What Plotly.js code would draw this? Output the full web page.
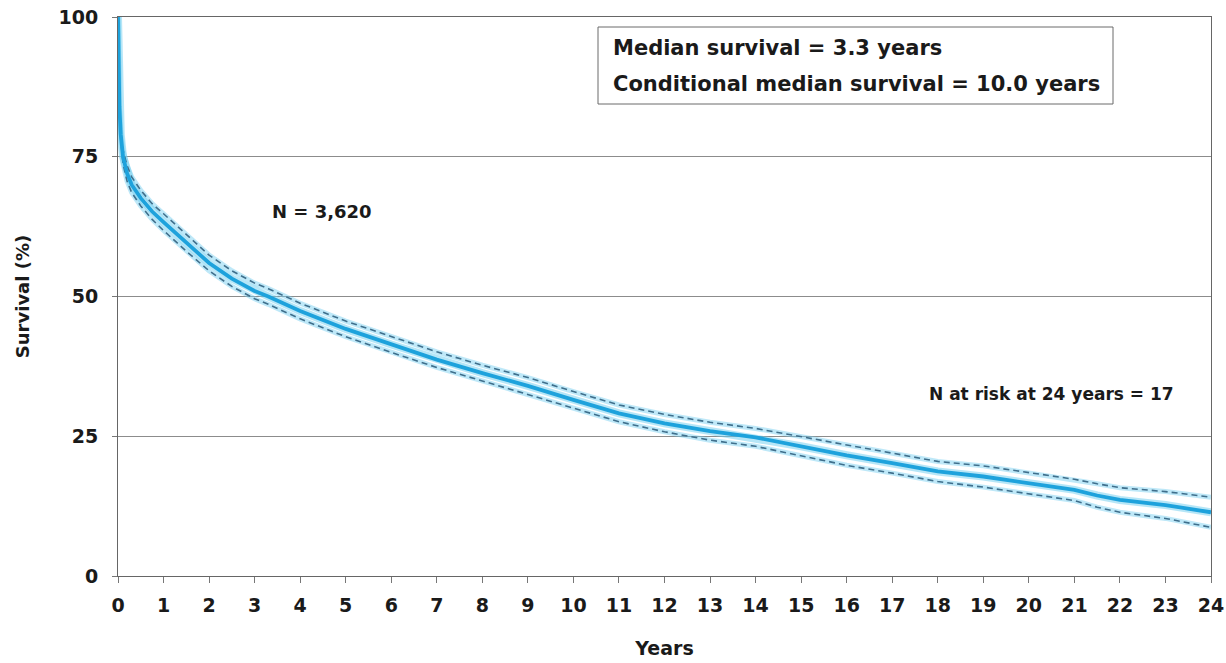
<!DOCTYPE html>
<html>
<head>
<meta charset="utf-8">
<script src="https://cdn.plot.ly/plotly-3.0.1.min.js"></script>
<style>
  html, body { margin: 0; padding: 0; background: #ffffff; }
  #chart { width: 1226px; height: 663px; }
</style>
</head>
<body>
<div id="chart"></div>
<script>
// Kaplan-Meier survival estimate
const years = [0, 0.01, 0.03, 0.06, 0.11, 0.2, 0.3, 0.5, 0.75, 1, 1.5, 2, 2.5, 3, 3.3, 4, 5, 6, 7, 8, 9, 10, 11, 12, 13, 14, 15, 16, 17, 18, 19, 20, 21, 21.5, 22, 23, 24];
const survival = [100, 92, 84, 79, 75, 72, 70, 67.6, 65.2, 63.3, 59.6, 56.0, 53.2, 51.0, 50.0, 47.4, 44.2, 41.4, 38.7, 36.3, 34.0, 31.5, 29.1, 27.3, 25.9, 24.8, 23.2, 21.6, 20.2, 18.7, 17.8, 16.6, 15.4, 14.4, 13.6, 12.7, 11.4];
const upperCI = [100, 92, 84, 79.8, 76.2, 73.4, 71.4, 69.0, 66.6, 64.8, 61.1, 57.4, 54.6, 52.4, 51.4, 48.8, 45.6, 42.8, 40.1, 37.7, 35.5, 33.0, 30.6, 28.9, 27.5, 26.4, 24.9, 23.4, 22.0, 20.5, 19.7, 18.5, 17.3, 16.5, 15.8, 15.1, 14.1];
const lowerCI = [100, 92, 84, 78.2, 73.8, 70.6, 68.6, 66.2, 63.8, 61.8, 58.1, 54.6, 51.8, 49.6, 48.6, 46.0, 42.8, 40.0, 37.3, 34.9, 32.5, 30.0, 27.6, 25.8, 24.3, 23.2, 21.5, 19.8, 18.4, 16.9, 15.9, 14.7, 13.5, 12.3, 11.4, 10.3, 8.7];

const xTicks = [0,1,2,3,4,5,6,7,8,9,10,11,12,13,14,15,16,17,18,19,20,21,22,23,24];
const yTicks = [0, 25, 50, 75, 100];

const summaryLines = ["Median survival = 3.3 years", "Conditional median survival = 10.0 years"];
const sampleLabel = "N = 3,620";
const riskLabel = "N at risk at 24 years = 17";

const FONT = "DejaVu Sans, Liberation Sans, Arial, sans-serif";
const txt = "#1a1a1a";

const glow = {color: "rgba(110,205,240,0.45)", width: 5};
const traces = [
  {x: years, y: upperCI, mode: "lines", line: {color: glow.color, width: glow.width}, hoverinfo: "skip", showlegend: false, cliponaxis: false},
  {x: years, y: lowerCI, mode: "lines", line: {color: glow.color, width: glow.width}, hoverinfo: "skip", showlegend: false, cliponaxis: false},
  {x: years, y: survival, mode: "lines", line: {color: "rgba(110,205,240,0.5)", width: 8}, hoverinfo: "skip", showlegend: false, cliponaxis: false},
  {x: years, y: upperCI, mode: "lines", name: "Upper 95% CI", line: {color: "#3f6f8c", width: 1.6, dash: "6px,4px"}, showlegend: false, cliponaxis: false},
  {x: years, y: lowerCI, mode: "lines", name: "Lower 95% CI", line: {color: "#3f6f8c", width: 1.6, dash: "6px,4px"}, showlegend: false, cliponaxis: false},
  {x: years, y: survival, mode: "lines", name: "Survival", line: {color: "#1ea2dc", width: 3.8}, showlegend: false, cliponaxis: false}
];

const layout = {
  width: 1226,
  height: 663,
  margin: {l: 118, r: 15, t: 17, b: 87},
  paper_bgcolor: "#ffffff",
  plot_bgcolor: "#ffffff",
  showlegend: false,
  font: {family: FONT, color: txt},
  xaxis: {
    range: [0, 24],
    tickvals: xTicks,
    ticktext: xTicks.map(String),
    ticks: "outside",
    ticklen: 6,
    tickcolor: "#777",
    tickwidth: 1,
    showgrid: false,
    zeroline: false,
    showline: true,
    linecolor: "#666",
    linewidth: 1,
    mirror: true,
    ticklabelstandoff: 6,
    tickfont: {family: FONT, size: 19, weight: "bold", color: txt},
    title: {text: "Years", font: {family: FONT, size: 19, weight: "bold", color: txt}, standoff: 26},
    automargin: false
  },
  yaxis: {
    range: [0, 100],
    tickvals: yTicks,
    ticktext: yTicks.map(String),
    ticks: "outside",
    ticklen: 5,
    tickcolor: "#777",
    tickwidth: 1,
    showgrid: true,
    gridcolor: "#8c8c8c",
    gridwidth: 1,
    zeroline: false,
    showline: true,
    linecolor: "#666",
    linewidth: 1,
    mirror: true,
    ticklabelstandoff: 10,
    tickfont: {family: FONT, size: 19, weight: "bold", color: txt},
    title: {text: "Survival (%)", font: {family: FONT, size: 18, weight: "bold", color: txt}, standoff: 24},
    automargin: false
  },
  shapes: [
    {type: "rect", xref: "paper", yref: "paper",
     x0: (598 - 118) / 1093, x1: (1113 - 118) / 1093,
     y0: (576 - 104) / 559, y1: (576 - 27) / 559,
     line: {color: "#6b6b6b", width: 1}, fillcolor: "#ffffff", layer: "above"}
  ],
  annotations: [
    {xref: "paper", yref: "paper", x: (611 - 118) / 1093, y: (576 - 48) / 559, xanchor: "left", yanchor: "middle",
     text: summaryLines[0], showarrow: false, font: {family: FONT, size: 21, weight: "bold", color: txt}},
    {xref: "paper", yref: "paper", x: (611 - 118) / 1093, y: (576 - 84) / 559, xanchor: "left", yanchor: "middle",
     text: summaryLines[1], showarrow: false, font: {family: FONT, size: 21, weight: "bold", color: txt}},
    {xref: "paper", yref: "paper", x: (322 - 118) / 1093, y: (576 - 211) / 559, xanchor: "center", yanchor: "middle",
     text: sampleLabel, showarrow: false, font: {family: FONT, size: 18, weight: "bold", color: txt}},
    {xref: "paper", yref: "paper", x: (1051 - 118) / 1093, y: (576 - 394) / 559, xanchor: "center", yanchor: "middle",
     text: riskLabel, showarrow: false, font: {family: FONT, size: 17, weight: "bold", color: txt}}
  ]
};

Plotly.newPlot("chart", traces, layout, {staticPlot: true, displayModeBar: false});
</script>
</body>
</html>
